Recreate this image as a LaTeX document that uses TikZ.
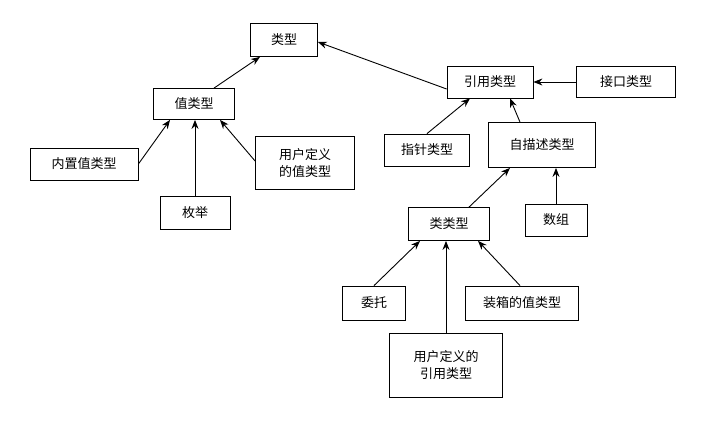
\documentclass[tikz,border=0pt]{standalone}
\usepackage{fontspec}
\newfontfamily\cjk{Noto Sans CJK SC}
\usetikzlibrary{arrows.meta}
\begin{document}
\begin{tikzpicture}[x=1pt,y=-1pt,
  box/.style={draw,line width=0.8pt,font=\cjk\fontsize{13}{17}\selectfont,inner sep=0pt,align=center},
  arr/.style={-{Stealth[length=9pt,width=7pt]},line width=0.9pt}]
\useasboundingbox (0,0) rectangle (707,422);
\node[box,minimum width=67,minimum height=33] (lx) at (284,40) {类型};
\node[box,minimum width=81,minimum height=31] (zlx) at (194,104) {值类型};
\node[box,minimum width=86,minimum height=32] (yy) at (490,82) {引用类型};
\node[box,minimum width=99,minimum height=31] (jk) at (626,82) {接口类型};
\node[box,minimum width=108,minimum height=32] (nz) at (84,164) {内置值类型};
\node[box,minimum width=70,minimum height=33] (mj) at (195,213) {枚举};
\node[box,minimum width=99,minimum height=53] (yhz) at (305,163) {用户定义\\的值类型};
\node[box,minimum width=85,minimum height=32] (zz) at (427,150) {指针类型};
\node[box,minimum width=107,minimum height=45] (zms) at (542,145) {自描述类型};
\node[box,minimum width=81,minimum height=33] (llx) at (449,224) {类类型};
\node[box,minimum width=62,minimum height=32] (sz) at (556,220) {数组};
\node[box,minimum width=63,minimum height=34] (wt) at (374,303) {委托};
\node[box,minimum width=113,minimum height=34] (zx) at (522,303) {装箱的值类型};
\node[box,minimum width=113,minimum height=64] (yhy) at (446,365) {用户定义的\\引用类型};
\draw[arr] ([xshift=20]zlx.north) -- ([xshift=-24]lx.south);
\draw[arr] ([yshift=-7]yy.west) -- ([yshift=-2]lx.east);
\draw[arr] (jk.west) -- (yy.east);
\draw[arr] (zz.north) -- ([xshift=-20]yy.south);
\draw[arr] ([xshift=-22]zms.north) -- ([xshift=20]yy.south);
\draw[arr] (nz.east) -- ([xshift=-24]zlx.south);
\draw[arr] (mj.north) -- (mj.north |- zlx.south);
\draw[arr] ([yshift=2]yhz.west) -- ([xshift=26]zlx.south);
\draw[arr] ([xshift=20]llx.north) -- ([xshift=-32]zms.south);
\draw[arr] (sz.north) -- (sz.north |- zms.south);
\draw[arr] (wt.north) -- ([xshift=-29]llx.south);
\draw[arr] (yhy.north) -- (yhy.north |- llx.south);
\draw[arr] ([xshift=-2]zx.north) -- ([xshift=29]llx.south);
\end{tikzpicture}
\end{document}
